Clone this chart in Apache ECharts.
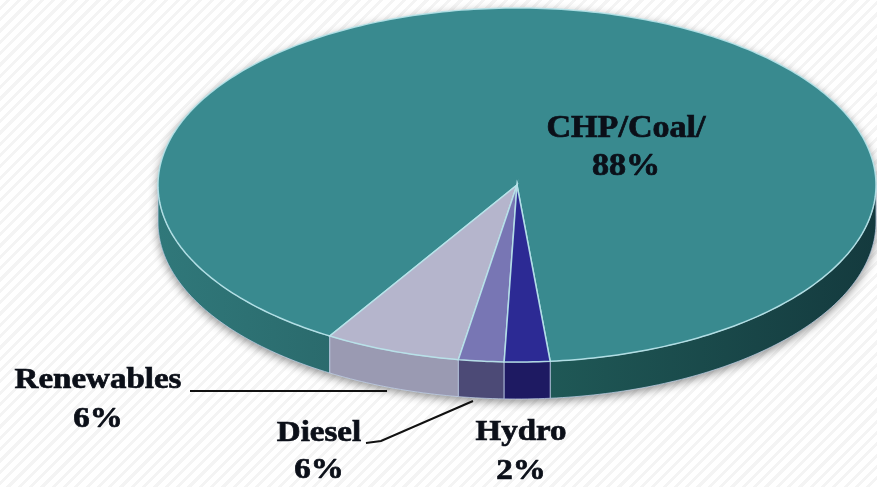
<!DOCTYPE html>
<html>
<head>
<meta charset="utf-8">
<script src="https://cdn.jsdelivr.net/npm/echarts@6/dist/echarts.min.js"></script>
<style>
  html, body { margin: 0; padding: 0; }
  body {
    background: #fff repeating-linear-gradient(-45deg, #fff 0px, #fff 5px, #f4f4f4 5px, #f4f4f4 8px);
  }
  #myChartPie { width: 877px; height: 487px; }
</style>
</head>
<body>
<div id="myChartPie"></div>
<script>
  // values
  var categories = ['CHP/Coal/', 'Renewables', 'Diesel', 'Hydro'];
  var shares = [88, 6, 2, 2];                 // slice sizes as drawn
  var pctLabels = ['88%', '6%', '6%', '2%'];  // percentages as printed

  // colours (top face / side wall)
  var topColors = ['#398a8f', '#b5b5cc', '#7876b4', '#2c2a94'];
  var sideColors = [null, '#9a9ab2', '#4c4a76', '#1e1a62'];

  // ellipse geometry of the tilted pie
  var cx = 517, cy = 185, rx = 359, ry = 177, depth = 37;
  var seamDeg = 444.7; // where coal meets hydro, slices run backwards from here

  function pt(deg, dy) {
    var r = deg * Math.PI / 180;
    return [cx + rx * Math.cos(r), cy + ry * Math.sin(r) + (dy || 0)];
  }
  function arcPts(a0, a1, dy) {
    var pts = [];
    var n = Math.max(2, Math.ceil(Math.abs(a1 - a0)));
    for (var k = 0; k <= n; k++) {
      pts.push(pt(a0 + (a1 - a0) * k / n, dy));
    }
    return pts;
  }

  var total = shares.reduce(function (a, b) { return a + b; }, 0);
  var bounds = [];
  var acc = seamDeg;
  shares.forEach(function (v) {
    var span = v / total * 360;
    bounds.push([acc - span, acc]);
    acc -= span;
  });

  var coalWall = new echarts.graphic.LinearGradient(158, 0, 875, 0, [
    { offset: 0, color: '#30787a' },
    { offset: 0.25, color: '#2a6a6c' },
    { offset: 0.55, color: '#1f5856' },
    { offset: 1, color: '#143a3e' }
  ], true);

  function renderItem(params, api) {
    var i = params.dataIndex;
    var lo = bounds[i][0], hi = bounds[i][1];
    var children = [];
    // outer wall, only the front half shows
    for (var k = -1; k <= 2; k++) {
      var s = Math.max(lo, k * 360), e = Math.min(hi, k * 360 + 180);
      if (e > s) {
        var pts = arcPts(s, e, 0).concat(arcPts(e, s, depth));
        children.push({
          type: 'polygon',
          shape: { points: pts },
          style: { fill: i === 0 ? coalWall : sideColors[i], stroke: 'rgba(200,215,240,0.7)', lineWidth: 1 }
        });
      }
    }
    // top face
    children.push({
      type: 'polygon',
      shape: { points: [[cx, cy]].concat(arcPts(lo, hi, 0)) },
      style: { fill: api.visual('color'), stroke: 'rgba(185,230,235,0.9)', lineWidth: 1.5 }
    });
    return { type: 'group', children: children };
  }

  // soft shadow under the whole disc
  var silhouette = arcPts(180, 360, 0).concat(arcPts(0, 180, depth));

  function labelText(i, x, y, size, lh) {
    return {
      type: 'text', x: x, y: y, scaleX: 1.1,
      style: {
        text: categories[i] + '\n' + pctLabels[i],
        font: 'bold ' + size + 'px "Liberation Serif", "Times New Roman", serif',
        fill: '#0b0f18', align: 'center', verticalAlign: 'middle', lineHeight: lh,
        stroke: '#0b0f18', lineWidth: 0.7
      },
      z: 10
    };
  }

  var myChart = echarts.init(document.getElementById('myChartPie'));
  myChart.setOption({
    animation: false,
    backgroundColor: 'transparent',
    graphic: [
      {
        type: 'polygon', shape: { points: silhouette },
        style: { fill: '#7a8a8c', shadowBlur: 10, shadowColor: 'rgba(0,0,0,0.45)', shadowOffsetY: 3 },
        z: 0
      },
      labelText(0, 626, 148, 31, 38),
      labelText(1, 98, 400, 30, 39),
      labelText(2, 319, 452, 30, 37),
      labelText(3, 521, 452, 30, 39),
      {
        type: 'polyline', shape: { points: [[190, 391], [387, 391]] },
        style: { stroke: '#111', lineWidth: 2, fill: null }, z: 10
      },
      {
        type: 'polyline', shape: { points: [[366, 443], [381, 441], [473, 401]] },
        style: { stroke: '#111', lineWidth: 2, fill: null }, z: 10
      }
    ],
    series: [
      {
        type: 'custom',
        coordinateSystem: 'none',
        renderItem: renderItem,
        z: 5,
        data: shares.map(function (v, i) {
          return { name: categories[i], value: v, itemStyle: { color: topColors[i] } };
        })
      }
    ]
  });
</script>
</body>
</html>
